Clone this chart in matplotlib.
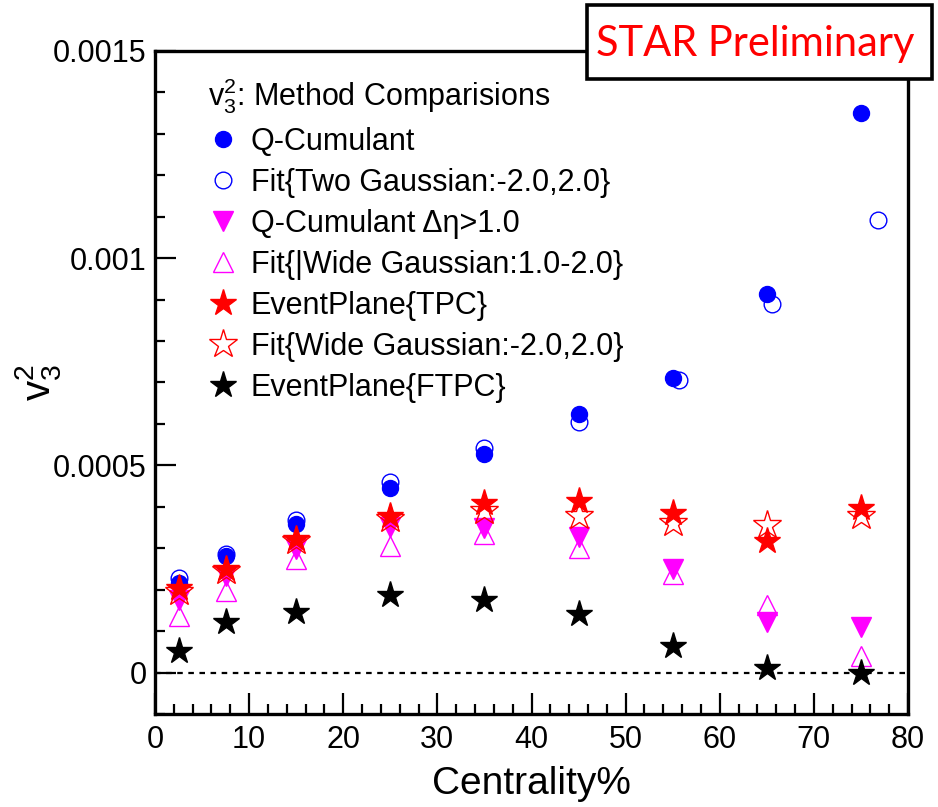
"""v3^2 vs centrality: comparison of flow methods (Q-cumulant, fits, event plane)."""

import matplotlib

matplotlib.use("Agg")
import matplotlib.pyplot as plt
from matplotlib.patches import Rectangle
from matplotlib.ticker import MultipleLocator

plt.rcParams["font.family"] = ["Liberation Sans", "DejaVu Sans"]
plt.rcParams["mathtext.fontset"] = "custom"
plt.rcParams["mathtext.rm"] = "Liberation Sans"
plt.rcParams["mathtext.it"] = "Liberation Sans"

# centrality bin centres (%)
cent = [2.5, 7.5, 15, 25, 35, 45, 55, 65, 75]
cent_fit2g = [2.5, 7.5, 15, 25, 35, 45, 55.7, 65.6, 76.8]

qcumulant = [0.000215, 0.000282, 0.000359, 0.000446, 0.000528, 0.000625, 0.000711, 0.000914, 0.00135]
fit_two_gauss = [0.000229, 0.000287, 0.000367, 0.000461, 0.000543, 0.000605, 0.000707, 0.00089, 0.001092]
qcumulant_eta = [0.000174, 0.000232, 0.000298, 0.000352, 0.000349, 0.000326, 0.000251, 0.000121, 0.000109]
fit_wide_12 = [0.000137, 0.000198, 0.000275, 0.000306, 0.000335, 0.000301, 0.000239, 0.000162, 0.000041]
ep_tpc = [0.000203, 0.000251, 0.000323, 0.000379, 0.00041, 0.000415, 0.000386, 0.000318, 0.000398]
fit_wide = [0.000195, 0.000246, 0.000318, 0.00037, 0.00039, 0.000379, 0.000362, 0.000355, 0.000379]
ep_ftpc = [0.000053, 0.000121, 0.000145, 0.000188, 0.000176, 0.000142, 0.000065, 0.000012, 0.0]

yticks = [0, 0.0005, 0.001, 0.0015]
ytick_labels = ["0", "0.0005", "0.001", "0.0015"]
xticks = [0, 10, 20, 30, 40, 50, 60, 70, 80]

labels = [
    "Q-Cumulant",
    "Fit{Two Gaussian:-2.0,2.0}",
    "Q-Cumulant \u0394\u03b7>1.0",
    "Fit{|Wide Gaussian:1.0-2.0}",
    "EventPlane{TPC}",
    "Fit{Wide Gaussian:-2.0,2.0}",
    "EventPlane{FTPC}",
]

BLUE = "#0000ff"
MAGENTA = "#ff00ff"
RED = "#ff0000"

fig = plt.figure(figsize=(9.38, 8.07), dpi=100)
ax = fig.add_axes([155 / 938, 1 - 714 / 807, 753 / 938, 663 / 807])

series = [
    (cent, qcumulant, dict(marker="o", ms=11.5, color=BLUE)),
    (cent_fit2g, fit_two_gauss, dict(marker="o", ms=12, color=BLUE, mfc="none", mew=1.0)),
    (cent, qcumulant_eta, dict(marker="v", ms=14, color=MAGENTA)),
    (cent, fit_wide_12, dict(marker="^", ms=15, color=MAGENTA, mfc="none", mew=1.0)),
    (cent, ep_tpc, dict(marker="*", ms=20, color=RED)),
    (cent, fit_wide, dict(marker="*", ms=21, color=RED, mfc="none", mew=1.0)),
    (cent, ep_ftpc, dict(marker="*", ms=20, color="black")),
]

handles = []
for (x, y, style), label in zip(series, labels):
    h, = ax.plot(x, y, ls="none", label=label, **style)
    handles.append(h)

ax.plot([0, 80], [0, 0], color="black", ls=(0, (2.5, 2.5)), lw=1.6, zorder=0)

ax.set_xlim(0, 80)
ax.set_ylim(-0.0001, 0.0015)
ax.set_xticks(xticks)
ax.set_xticklabels([str(t) for t in xticks])
ax.xaxis.set_minor_locator(MultipleLocator(2))
ax.set_yticks(yticks)
ax.set_yticklabels(ytick_labels)
ax.yaxis.set_minor_locator(MultipleLocator(0.0001))

ax.tick_params(which="both", direction="in", top=False, right=False, width=1.6, labelsize=22)
ax.tick_params(which="major", length=15)
ax.tick_params(which="minor", length=7.5)
ax.tick_params(axis="y", pad=6)
ax.tick_params(axis="x", pad=8)
for sp in ax.spines.values():
    sp.set_linewidth(2.4)

ax.set_xlabel("Centrality%", fontsize=28, labelpad=8)
ax.set_ylabel(r"$\mathregular{v_{3}^{2}}$", fontsize=29)
ax.yaxis.set_label_coords(-0.122, 0.5)

leg = ax.legend(
    handles=handles,
    title=r"$\mathregular{v_{3}^{2}}$: Method Comparisions",
    loc="upper left",
    bbox_to_anchor=(0.05, 0.985),
    frameon=False,
    alignment="left",
    fontsize=22,
    title_fontsize=22,
    handlelength=1.0,
    handletextpad=0.4,
    labelspacing=0.36,
    borderpad=0,
)

# "STAR Preliminary" stamp over the top-right corner
fig.patches.append(
    Rectangle((587 / 938, 1 - 79 / 807), 345 / 938, 74 / 807, transform=fig.transFigure,
              facecolor="white", edgecolor="black", lw=2.6, zorder=5)
)
fig.text(755 / 938, 1 - 44 / 807, "STAR Preliminary", color=RED, fontsize=30,
         family=["Lato", "DejaVu Sans"], ha="center", va="center", zorder=6)

fig.savefig("out.png", dpi=100)
